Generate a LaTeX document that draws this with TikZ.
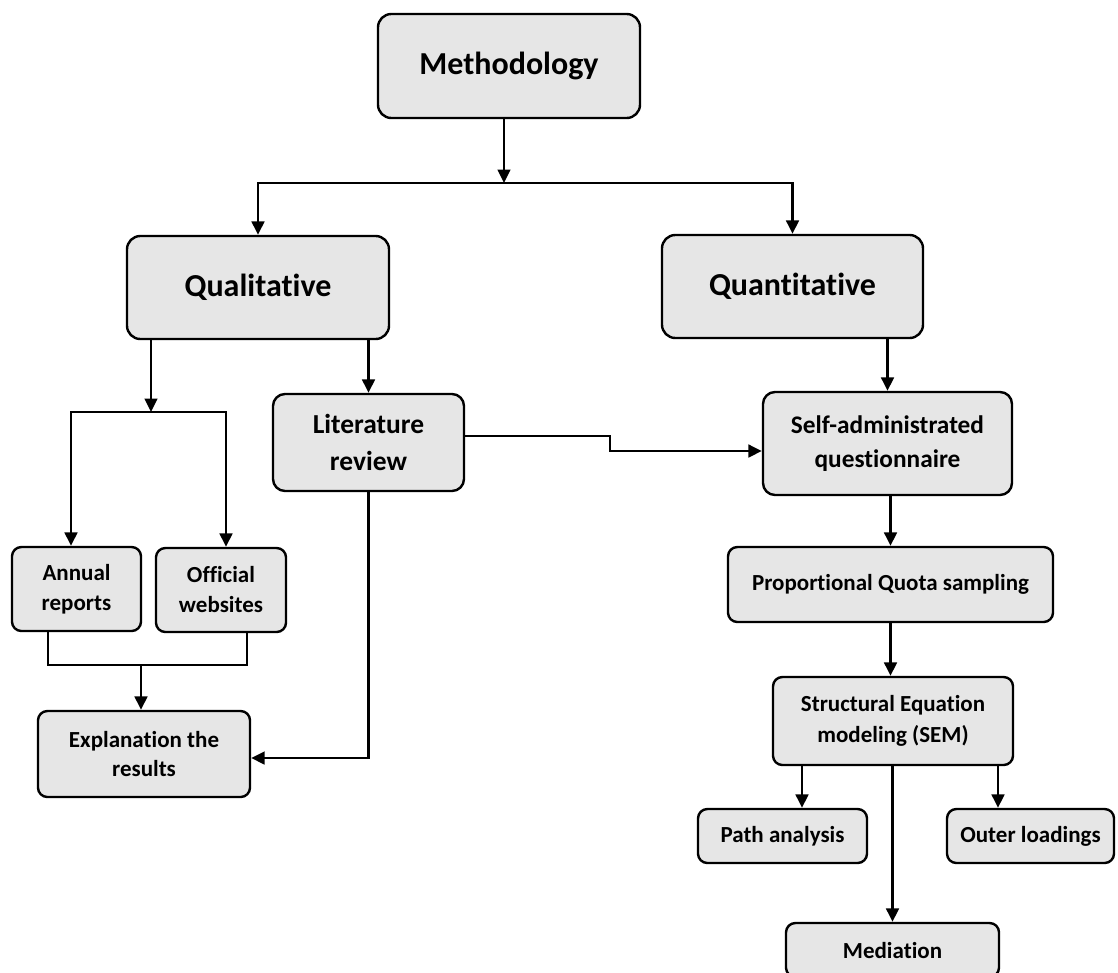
\documentclass[tikz,border=0pt]{standalone}
\usepackage{fontspec}
\setmainfont{Carlito}[Ligatures={NoCommon}]
\usetikzlibrary{arrows.meta,positioning,calc}
\definecolor{boxfill}{RGB}{230,230,230}
\tikzset{
  headbox/.style={rounded corners=10pt, draw=black, fill=boxfill, line width=1.8pt,
               align=center, inner sep=0pt, font=\bfseries\fontsize{24}{29}\selectfont},
  midbox/.style={rounded corners=9pt, draw=black, fill=boxfill, line width=1.8pt,
               align=center, inner sep=0pt, font=\bfseries\fontsize{19}{25.5}\selectfont},
  subbox/.style={rounded corners=7pt, draw=black, fill=boxfill, line width=1.8pt,
               align=center, inner sep=0pt, font=\bfseries\fontsize{17.25}{22.5}\selectfont},
  flow/.style={-{Triangle[length=10pt,width=9.5pt]}, line width=1.7pt, draw=black},
  link/.style={line width=1.9pt, draw=black},
}
\begin{document}
\begin{tikzpicture}[x=0.75pt,y=-0.75pt]
    \useasboundingbox (0,0) rectangle (1118,972);
    % top levels
    \node[headbox, minimum width=196.5pt, minimum height=78pt] (meth) at (509,66) {Methodology};
    \node[headbox, minimum width=196.5pt, minimum height=77.25pt] (qual) at (258,287.5) {Qualitative};
    \node[headbox, minimum width=195.75pt, minimum height=77.25pt] (quant) at (792.5,286.5) {Quantitative};
    % qualitative side
    \node[midbox, font=\bfseries\fontsize{20.6}{27.75}\selectfont, minimum width=143.25pt, minimum height=72.75pt] (lit) at (368.5,442.5) {Literature\\review};
    \node[subbox, minimum width=96.75pt, minimum height=63pt] (annual) at (76.5,589) {Annual\\reports};
    \node[subbox, minimum width=97.5pt, minimum height=63pt] (official) at (221,590) {Official\\websites};
    \node[subbox, font=\bfseries\fontsize{17.25}{21.5}\selectfont, minimum width=159pt, minimum height=64.5pt] (expl) at (144,754) {Explanation the\\results};
    % quantitative side
    \node[midbox, minimum width=186.75pt, minimum height=77.25pt] (self) at (887.5,443.5) {Self-administrated\\questionnaire};
    \node[subbox, minimum width=243.75pt, minimum height=56.25pt] (pqs) at (890.5,584.5) {Proportional Quota sampling};
    \node[subbox, font=\bfseries\fontsize{17.25}{23.25}\selectfont, minimum width=180pt, minimum height=66pt] (sem) at (893,721) {Structural Equation\\modeling (SEM)};
    \node[subbox, minimum width=126.75pt, minimum height=40.5pt] (path) at (782.5,836) {Path analysis};
    \node[subbox, minimum width=125.25pt, minimum height=40.5pt] (outer) at (1030.5,836) {Outer loadings};
    \node[subbox, minimum width=159.75pt, minimum height=40.5pt] (med) at (892.5,950) {Mediation};
    % branch points
    \coordinate (split) at (504,183);
    \coordinate (qsplit) at (151,412);
    \coordinate (join) at (141,665);
    \coordinate (step) at (610,436);
    % connectors
    \draw[flow] (meth.south -| split) -- (split);
    \draw[flow] (split) -| (qual.north);
    \draw[flow] (split) -| (quant.north);
    \draw[flow] (qual.south -| qsplit) -- (qsplit);
    \draw[flow] (qsplit) -| ($(annual.north)+(-5.5,0)$);
    \draw[flow] (qsplit) -| ($(official.north)+(5,0)$);
    \draw[flow] (qual.south -| lit.north) -- (lit.north);
    \draw[link] ($(annual.south)+(-28.5,0)$) |- (join) -| ($(official.south)+(26,0)$);
    \draw[flow] (join) -- (join |- expl.north);
    \draw[flow] (lit.south) |- ($(expl.east)+(0,4)$);
    \draw[flow] ($(lit.east)+(0,-6.5)$) -- (step) |- ($(self.west)+(0,7.5)$);
    \draw[flow] (quant.south -| self.north) -- (self.north);
    \draw[flow] (self.south -| pqs.north) -- (pqs.north);
    \draw[flow] (pqs.south) -- (pqs.south |- sem.north);
    \draw[flow] ($(sem.south -| path.north)+(19.5,0)$) -- ($(path.north)+(19.5,0)$);
    \draw[flow] (sem.south -| med.north) -- (med.north);
    \draw[flow] ($(sem.south -| outer.north)+(-32.5,0)$) -- ($(outer.north)+(-32.5,0)$);
\end{tikzpicture}
\end{document}
